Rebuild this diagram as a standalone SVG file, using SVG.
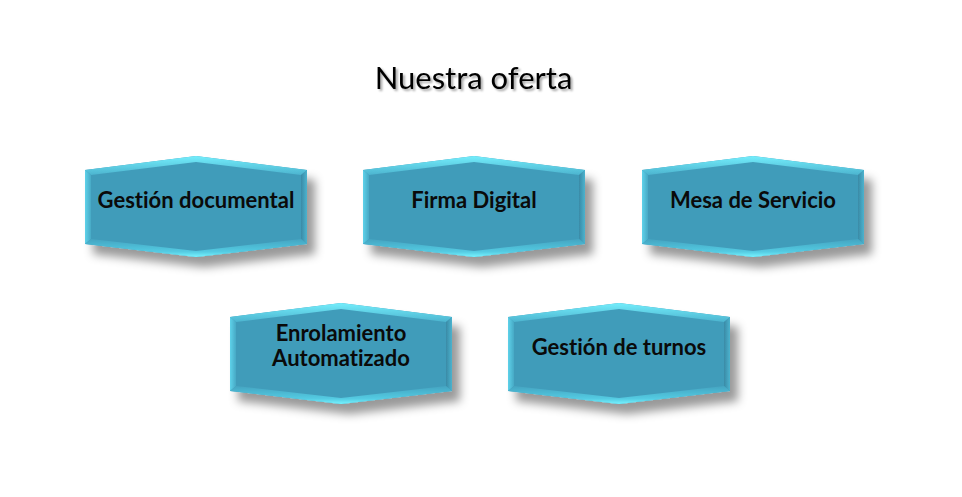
<svg xmlns="http://www.w3.org/2000/svg" xmlns:xlink="http://www.w3.org/1999/xlink" width="962" height="497" viewBox="0 0 962 497">
<style>
.lbl{font-family:Lato,"Noto Sans","Liberation Sans",sans-serif;font-weight:bold;font-size:22px;fill:#0a0a0a;text-anchor:middle;font-variant-ligatures:none}
.ttl{font-family:Lato,"Noto Sans","Liberation Sans",sans-serif;font-size:31px;fill:#000;text-anchor:middle;font-variant-ligatures:none}
</style>
<defs>
<filter id="sh" x="-10%" y="-20%" width="130%" height="160%">
<feGaussianBlur in="SourceAlpha" stdDeviation="5"/>
<feOffset dx="8" dy="10" result="b"/>
<feFlood flood-color="#000" flood-opacity="0.4"/>
<feComposite in2="b" operator="in"/>
<feMerge><feMergeNode/><feMergeNode in="SourceGraphic"/></feMerge>
</filter>
<filter id="tsh" x="-5%" y="-20%" width="110%" height="150%">
<feGaussianBlur in="SourceAlpha" stdDeviation="1"/>
<feOffset dx="1.5" dy="1.5" result="b"/>
<feFlood flood-color="#000" flood-opacity="0.35"/>
<feComposite in2="b" operator="in"/>
<feMerge><feMergeNode/><feMergeNode in="SourceGraphic"/></feMerge>
</filter>
<linearGradient id="gt" x1="0" y1="0" x2="0" y2="1"><stop offset="0" stop-color="#74eefc"/><stop offset="1" stop-color="#4cb4cf"/></linearGradient>
<linearGradient id="gb" x1="0" y1="0" x2="0" y2="1"><stop offset="0" stop-color="#44a4c1"/><stop offset="0.7" stop-color="#54cbe2"/><stop offset="1" stop-color="#78f4ff"/></linearGradient>
<linearGradient id="gl" x1="0" y1="0" x2="1" y2="0"><stop offset="0" stop-color="#5ed2ea"/><stop offset="1" stop-color="#47a9c5"/></linearGradient>
<linearGradient id="gr" x1="0" y1="0" x2="1" y2="0"><stop offset="0" stop-color="#3a8aa6"/><stop offset="1" stop-color="#4cb3ce"/></linearGradient>
<g id="hex">
<polygon points="0,14 111,0 222,14 222,88 111,101 0,88" fill="#419cba"/>
<polygon points="0,14 111,0 222,14 216,19 111,6 6,19" fill="url(#gt)"/>
<polygon points="0,14 6,19 6,83 0,88" fill="url(#gl)"/>
<polygon points="222,14 222,88 216,83 216,19" fill="url(#gr)"/>
<polygon points="0,88 6,83 111,95 216,83 222,88 111,101" fill="url(#gb)"/>
</g>
</defs>
<rect width="962" height="497" fill="#fff"/>
<text class="ttl" x="473.5" y="89" filter="url(#tsh)">Nuestra oferta</text>
<g id="connectors"/>
<g id="node-gestion-documental">
<use xlink:href="#hex" href="#hex" transform="translate(85,156)" filter="url(#sh)"/>
<text class="lbl" x="196" y="208">Gestión documental</text>
</g>
<g id="node-firma-digital">
<use xlink:href="#hex" href="#hex" transform="translate(363,156)" filter="url(#sh)"/>
<text class="lbl" x="474" y="208">Firma Digital</text>
</g>
<g id="node-mesa-servicio">
<use xlink:href="#hex" href="#hex" transform="translate(642,156)" filter="url(#sh)"/>
<text class="lbl" x="753" y="208">Mesa de Servicio</text>
</g>
<g id="node-enrolamiento">
<use xlink:href="#hex" href="#hex" transform="translate(230,303)" filter="url(#sh)"/>
<text class="lbl" x="341" y="341">Enrolamiento</text>
<text class="lbl" x="341" y="366">Automatizado</text>
</g>
<g id="node-gestion-turnos">
<use xlink:href="#hex" href="#hex" transform="translate(508,303)" filter="url(#sh)"/>
<text class="lbl" x="619" y="355">Gestión de turnos</text>
</g>
</svg>
